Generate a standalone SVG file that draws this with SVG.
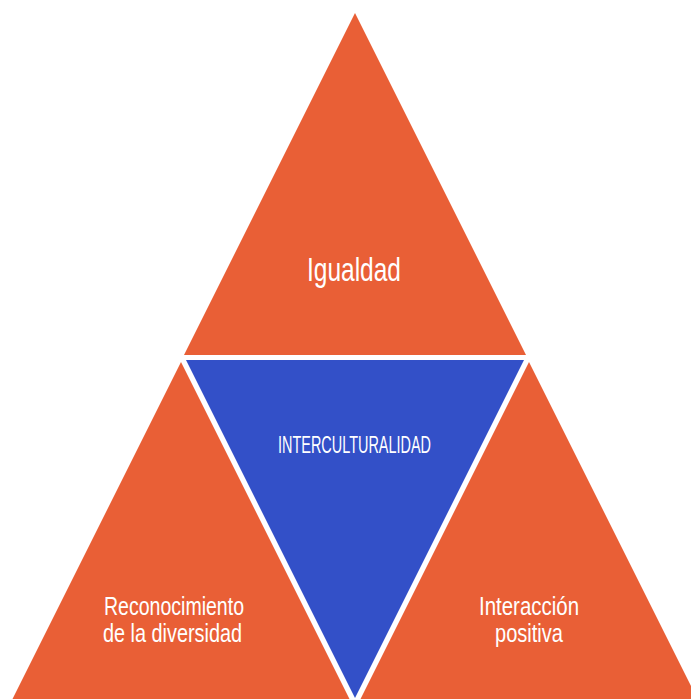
<svg xmlns="http://www.w3.org/2000/svg" width="691" height="699" viewBox="0 0 691 699">
<style>
.o{fill:#E95F36}
.b{fill:#3350C8}
.t{fill:#FFFFFF;font-family:"Liberation Sans","DejaVu Sans",sans-serif;text-anchor:middle}
.s{font-size:25px}
</style>
<rect width="691" height="699" fill="#FFFFFF"/>
<g id="top">
<polygon class="o" points="355,13 526,355 184,355"/>
<text class="t" x="354" y="281" font-size="34" textLength="94" lengthAdjust="spacingAndGlyphs">Igualdad</text>
</g>
<g id="center">
<polygon class="b" points="186,360 524,360 355,698"/>
<text class="t" x="354.5" y="453" font-size="24" textLength="153" lengthAdjust="spacingAndGlyphs">INTERCULTURALIDAD</text>
</g>
<g id="left">
<polygon class="o" points="181,362 350,700 12,700"/>
<text class="t s" x="174" y="615" textLength="140" lengthAdjust="spacingAndGlyphs">Reconocimiento</text>
<text class="t s" x="172.5" y="642" textLength="139" lengthAdjust="spacingAndGlyphs">de la diversidad</text>
</g>
<g id="right">
<polygon class="o" points="529,362 698,700 360,700"/>
<text class="t s" x="529" y="615" textLength="100" lengthAdjust="spacingAndGlyphs">Interacción</text>
<text class="t s" x="529" y="642" textLength="68" lengthAdjust="spacingAndGlyphs">positiva</text>
</g>
<g id="connectors"/>
</svg>
